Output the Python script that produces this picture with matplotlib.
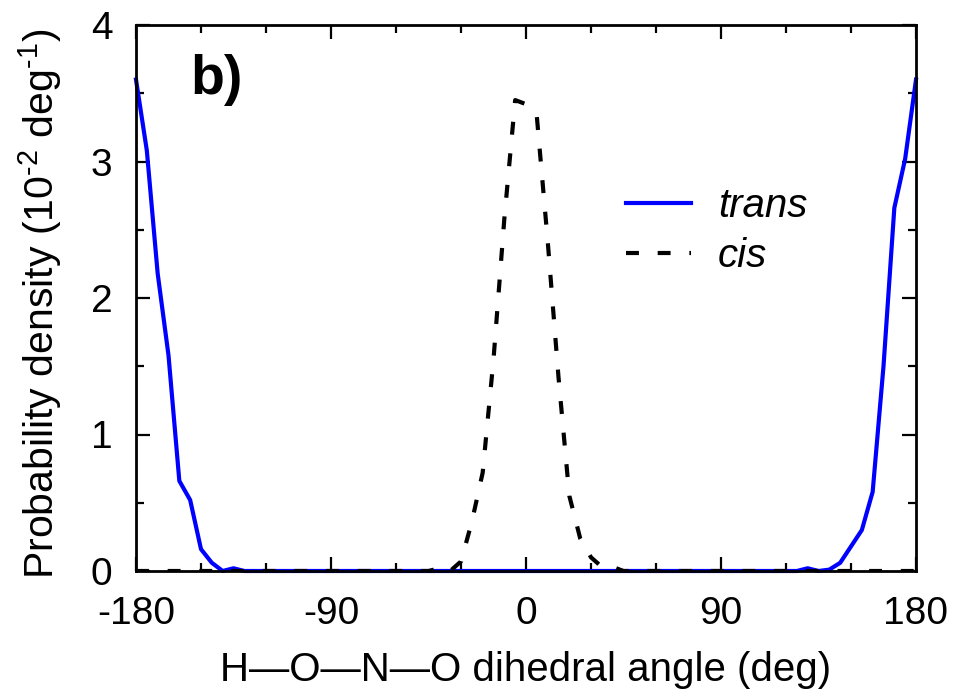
import matplotlib
matplotlib.use("Agg")
import matplotlib.pyplot as plt
import numpy as np
from matplotlib.ticker import MultipleLocator

plt.rcParams["font.family"] = ["Liberation Sans", "DejaVu Sans"]
plt.rcParams["mathtext.fontset"] = "custom"
plt.rcParams["mathtext.rm"] = "Liberation Sans"
plt.rcParams["mathtext.it"] = "Liberation Sans:italic"
plt.rcParams["axes.unicode_minus"] = False

# bin centres of the dihedral histogram (deg)
angle = np.arange(-180, 181, 5)

# probability density, 10^-2 deg^-1
trans = ([3.60, 3.08, 2.18, 1.58, 0.66, 0.52, 0.16, 0.06, 0.00, 0.02, 0.00]
         + [0.0] * 51
         + [0.02, 0.00, 0.01, 0.06, 0.18, 0.30, 0.58, 1.50, 2.66, 3.02, 3.60])
cis = ([0.0] * 27
       + [0.00, 0.02, 0.00, 0.07, 0.36, 0.72, 1.55, 2.58, 3.45, 3.42,
          3.33, 2.42, 1.42, 0.55, 0.24, 0.10, 0.03, 0.03, 0.00]
       + [0.0] * 27)

x_ticks = [-180, -90, 0, 90, 180]
y_ticks = [0, 1, 2, 3, 4]

fig = plt.figure(figsize=(9.56, 6.93), dpi=100)
ax = fig.add_axes([136 / 956, 122 / 693, 780 / 956, 546 / 693])

ax.plot(angle, trans, color="#0000ff", lw=3, label="trans", clip_on=False, zorder=2)
ax.plot(angle, cis, color="black", lw=3, dashes=(3.1, 4.5), label="cis", zorder=3)

ax.set_xlim(-180, 180)
ax.set_ylim(0, 4)
ax.set_xticks(x_ticks)
ax.set_yticks(y_ticks)
ax.xaxis.set_minor_locator(MultipleLocator(30))
ax.yaxis.set_minor_locator(MultipleLocator(0.5))
ax.tick_params(which="both", direction="in", top=True, right=True, width=1.6,
               labelsize=28)
ax.tick_params(which="major", length=10)
ax.tick_params(which="minor", length=5.5)
ax.tick_params(axis="x", which="major", pad=18)
ax.tick_params(axis="y", which="major", pad=17)
for s in ax.spines.values():
    s.set_linewidth(2.0)
    s.set_zorder(4)

ax.set_xlabel("H\u2014O\u2014N\u2014O dihedral angle (deg)", fontsize=29, labelpad=14)
ax.set_ylabel(r"Probability density (10$^{\text{-2}}$ deg$^{\text{-1}}$)", fontsize=29.5)
# label centre sits a little below the middle of the axis in the original
ax.yaxis.set_label_coords(-72 / 780, 0.49)

ax.text(0.07, 0.9, "b)", transform=ax.transAxes, fontsize=40, fontweight="bold",
        va="center", ha="left")

leg = ax.legend(loc="upper left", bbox_to_anchor=(0.582, 0.769), frameon=False,
                handlelength=1.6, handletextpad=0.68, labelspacing=0.3,
                prop={"size": 29, "style": "italic"})

fig.savefig("out.png", dpi=100)
